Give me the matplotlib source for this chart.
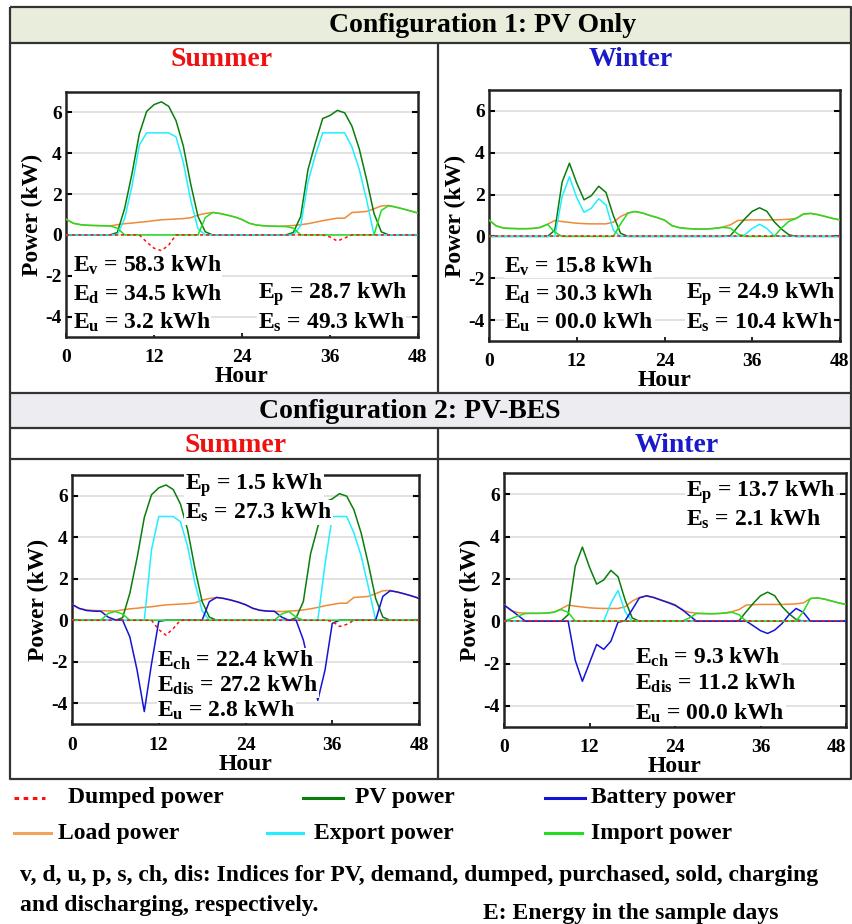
import numpy as np
import matplotlib
matplotlib.use("Agg")
import matplotlib.pyplot as plt
from matplotlib.patches import Rectangle
from matplotlib.transforms import ScaledTranslation

# ---------------------------------------------------------------- data (kW, hourly, two sample days)
hours = list(range(49))
x_ticks = [0, 12, 24, 36, 48]
y_ticks = [-4, -2, 0, 2, 4, 6]

pv_summer = [0, 0, 0, 0, 0, 0, 0,
             0.12, 1.3, 3.0, 4.95, 6.05, 6.38, 6.52, 6.3, 5.6, 4.35, 2.5, 0.9, 0.15, 0,
             0, 0, 0, 0, 0, 0, 0, 0, 0, 0,
             0.12, 0.9, 3.2, 4.5, 5.7, 5.85, 6.1, 5.98, 5.32, 4.2, 2.7, 1.05, 0.15, 0,
             0, 0, 0, 0]
load_summer = [0.77, 0.57, 0.5, 0.47, 0.46, 0.45, 0.44,
               0.5, 0.55, 0.58, 0.62, 0.65, 0.7, 0.74, 0.76, 0.78, 0.8, 0.84, 0.97, 1.05, 1.1,
               1.05, 0.97, 0.88, 0.75, 0.57, 0.48, 0.45, 0.43, 0.42, 0.44,
               0.46, 0.5, 0.55, 0.62, 0.7, 0.76, 0.82, 0.82, 1.1, 1.12, 1.15, 1.28, 1.42, 1.44,
               1.36, 1.27, 1.17, 1.07]
pv_winter = [0, 0, 0, 0, 0, 0, 0, 0, 0,
             0.3, 2.6, 3.5, 2.55, 1.75, 1.95, 2.4, 2.1, 1.0, 0.15, 0,
             0, 0, 0, 0, 0, 0, 0, 0, 0, 0, 0, 0, 0,
             0.03, 0.45, 0.85, 1.2, 1.37, 1.2, 0.7, 0.35, 0.08,
             0, 0, 0, 0, 0, 0, 0]
load_winter = [0.78, 0.5, 0.4, 0.38, 0.37, 0.37, 0.38, 0.43, 0.58, 0.76,
               0.71, 0.67, 0.63, 0.61, 0.6, 0.6, 0.6, 0.68, 0.95, 1.12,
               1.19, 1.12, 1.0, 0.9, 0.78, 0.52, 0.42, 0.38, 0.36, 0.35,
               0.36, 0.39, 0.45, 0.55, 0.76, 0.78, 0.79, 0.79, 0.79, 0.79,
               0.8, 0.82, 0.86, 1.07, 1.1, 1.04, 0.95, 0.86, 0.79]

# Configuration 1: PV only
export_s1 = [0, 0, 0, 0, 0, 0, 0,
             0, 0.8, 2.4, 4.4, 5, 5, 5, 5, 4.8, 3.55, 1.7, 0.3, 0, 0,
             0, 0, 0, 0, 0, 0, 0, 0, 0, 0,
             0, 0.45, 2.6, 3.9, 5, 5, 5, 5, 4.3, 3.2, 1.7, 0, 0, 0,
             0, 0, 0, 0]
import_s1 = [0.77, 0.57, 0.5, 0.47, 0.46, 0.45, 0.44,
             0.33, 0, 0, 0, 0, 0, 0, 0, 0, 0, 0, 0, 0.85, 1.1,
             1.05, 0.97, 0.88, 0.75, 0.57, 0.48, 0.45, 0.43, 0.42, 0.41,
             0.33, 0, 0, 0, 0, 0, 0, 0, 0, 0, 0, 0, 1.2, 1.43,
             1.36, 1.27, 1.17, 1.07]
dumped_s1 = [0, 0, 0, 0, 0, 0, 0, 0, 0, 0, 0,
             -0.35, -0.65, -0.77, -0.5, 0,
             0, 0, 0, 0, 0, 0, 0, 0, 0, 0, 0, 0, 0, 0, 0, 0, 0, 0, 0, 0,
             -0.1, -0.3, -0.15,
             0, 0, 0, 0, 0, 0, 0, 0, 0, 0]
export_w1 = [0, 0, 0, 0, 0, 0, 0, 0, 0, 0,
             1.9, 2.85, 1.85, 1.15, 1.35, 1.8, 1.5, 0.3, 0,
             0, 0, 0, 0, 0, 0, 0, 0, 0, 0, 0, 0, 0, 0, 0, 0,
             0.08, 0.38, 0.58, 0.38, 0.02,
             0, 0, 0, 0, 0, 0, 0, 0, 0]
import_w1 = [0.78, 0.5, 0.4, 0.38, 0.37, 0.37, 0.38, 0.43, 0.58, 0.2,
             0, 0, 0, 0, 0, 0, 0, 0,
             0.6, 1.12, 1.19, 1.12, 1.0, 0.9, 0.78, 0.52, 0.42, 0.38, 0.36, 0.35,
             0.36, 0.39, 0.43, 0.4, 0.12,
             0, 0, 0, 0, 0,
             0.4, 0.72, 0.86, 1.07, 1.1, 1.04, 0.95, 0.86, 0.79]
dumped_w1 = [0.0] * 49

# Configuration 2: PV with battery storage
export_s2 = [0, 0, 0, 0, 0, 0, 0, 0, 0, 0,
             0, 3.4, 5, 5, 5, 4.75, 3.55, 1.8, 0.45, 0,
             0, 0, 0, 0, 0, 0, 0, 0, 0, 0, 0, 0, 0, 0,
             0, 2.7, 5, 5, 5, 4.2, 3.1, 1.6, 0,
             0, 0, 0, 0, 0, 0]
import_s2 = [0, 0, 0, 0, 0, 0.33, 0.42, 0.3, 0,
             0, 0, 0, 0, 0, 0, 0, 0, 0, 0, 0, 0, 0, 0, 0, 0, 0, 0, 0, 0,
             0.3, 0.42, 0.15, 0,
             0, 0, 0, 0, 0, 0, 0, 0, 0, 0, 0, 0, 0, 0, 0, 0]
battery_s2 = [0.76, 0.57, 0.47, 0.44, 0.43, 0.15, 0.02, 0, -0.8, -2.4, -4.4, -2.1, -0.05,
              0, 0, 0, 0, 0,
              0, 0.9, 1.1, 1.05, 0.97, 0.87, 0.75, 0.58, 0.48, 0.44, 0.43, 0.15, 0, 0,
              -0.95, -2.5, -3.86, -2.4, -0.15,
              0, 0, 0, 0, 0, 0,
              1.15, 1.42, 1.36, 1.27, 1.17, 1.05]
dumped_s2 = [0, 0, 0, 0, 0, 0, 0, 0, 0, 0, 0, 0,
             -0.45, -0.72, -0.4, 0,
             0, 0, 0, 0, 0, 0, 0, 0, 0, 0, 0, 0, 0, 0, 0, 0, 0, 0, 0, 0,
             -0.05, -0.3, -0.2,
             0, 0, 0, 0, 0, 0, 0, 0, 0, 0]
export_w2 = [0, 0, 0, 0, 0, 0, 0, 0, 0, 0, 0, 0, 0, 0, 0,
             0.85, 1.45, 0.45,
             0, 0, 0, 0, 0, 0, 0, 0, 0, 0, 0, 0, 0, 0, 0, 0, 0, 0, 0, 0, 0, 0, 0,
             0, 0, 0, 0, 0, 0, 0, 0]
import_w2 = [0, 0.12, 0.25, 0.36, 0.37, 0.37, 0.38, 0.42, 0.55, 0.42,
             0, 0, 0, 0, 0, 0, 0, 0, 0, 0, 0, 0, 0, 0, 0, 0,
             0.15, 0.36, 0.36, 0.35, 0.36, 0.38, 0.42, 0.3,
             0, 0, 0, 0, 0, 0, 0, 0,
             0.45, 1.07, 1.1, 1.04, 0.95, 0.86, 0.79]
battery_w2 = [0.76, 0.52, 0.26,
              0, 0, 0, 0, 0, 0, 0,
              -1.85, -2.84, -1.97, -1.1, -1.33, -0.95, -0.05, 0.02, 0.55, 1.1,
              1.2, 1.12, 1.0, 0.88, 0.75, 0.55, 0.27,
              0, 0, 0, 0, 0, 0, 0, 0,
              -0.22, -0.45, -0.58, -0.42, -0.12, 0.3, 0.6, 0.42,
              0, 0, 0, 0, 0, 0]
dumped_w2 = [0.0] * 49

# energy summaries written on each panel
notes_s1 = [("v", "58.3"), ("d", "34.5"), ("u", "3.2"), ("p", "28.7"), ("s", "49.3")]
notes_w1 = [("v", "15.8"), ("d", "30.3"), ("u", "00.0"), ("p", "24.9"), ("s", "10.4")]
notes_s2 = [("p", "1.5"), ("s", "27.3"), ("ch", "22.4"), ("dis", "27.2"), ("u", "2.8")]
notes_w2 = [("p", "13.7"), ("s", "2.1"), ("ch", "9.3"), ("dis", "11.2"), ("u", "00.0")]

legend_labels = ["Dumped power", "PV power", "Battery power",
                 "Load power", "Export power", "Import power"]

# ---------------------------------------------------------------- style
C_DUMP = "#ff1010"
C_PV = "#0a7d0a"
C_BAT = "#1414d8"
C_LOAD = "#ef8a35"
C_EXP = "#22eeff"
C_IMP = "#22dd22"

plt.rcParams.update({
    "font.family": "Liberation Serif",
    "font.weight": "bold",
    "axes.labelweight": "bold",
    "axes.unicode_minus": False,
    "mathtext.fontset": "custom",
    "mathtext.rm": "Liberation Serif:bold",
    "mathtext.it": "Liberation Serif:bold",
    "mathtext.bf": "Liberation Serif:bold",
})

W, H = 852, 924
fig = plt.figure(figsize=(W / 100, H / 100), dpi=100)

# background layer in pixel coordinates for frames, headers and legend
bg = fig.add_axes([0, 0, 1, 1], zorder=0)
bg.set_xlim(0, W)
bg.set_ylim(H, 0)
bg.axis("off")

frame_kw = dict(color="#333333", lw=1.6, solid_capstyle="butt")
bg.add_patch(Rectangle((10, 7), 841, 36, fc="#e8eedb", ec="none"))
bg.add_patch(Rectangle((10, 393), 841, 35, fc="#ececf1", ec="none"))
bg.plot([10, 851, 851, 10, 10], [7, 7, 779, 779, 7], **frame_kw)
for yy in (43, 393, 428, 459):
    bg.plot([10, 851], [yy, yy], **frame_kw)
bg.plot([438, 438], [43, 393], **frame_kw)
bg.plot([438, 438], [428, 779], **frame_kw)

bg.text(483, 25, "Configuration 1: PV Only", ha="center", va="center", fontsize=20)
bg.text(410, 411, "Configuration 2: PV-BES", ha="center", va="center", fontsize=20)
bg.text(222, 59, "Summer", ha="center", va="center", fontsize=20, color="#ee1111")
bg.text(631, 59, "Winter", ha="center", va="center", fontsize=20, color="#1a1ac8")
bg.text(236, 445, "Summer", ha="center", va="center", fontsize=20, color="#ee1111")
bg.text(677, 445, "Winter", ha="center", va="center", fontsize=20, color="#1a1ac8")


def make_axes(x0, y0, x1, y1):
    ax = fig.add_axes([x0 / W, 1 - y1 / H, (x1 - x0) / W, (y1 - y0) / H], zorder=2)
    ax.set_xlim(0, 48)
    ax.set_ylim(-5, 7)
    ax.set_xticks(x_ticks)
    ax.set_yticks(y_ticks)
    ax.grid(axis="y", color="#dddddd", lw=1.2)
    ax.set_axisbelow(True)
    for s in ax.spines.values():
        s.set_linewidth(1.8)
        s.set_color("#222222")
    ax.tick_params(axis="y", direction="in", length=4, width=1.5, left=True, right=True,
                   labelsize=14, pad=3)
    ax.tick_params(axis="x", direction="in", length=3, width=1.2, labelsize=14, pad=9)
    ax.set_ylabel("Power (kW)", fontsize=17, labelpad=2)
    ax.set_xlabel("Hour", fontsize=17, labelpad=0)
    return ax


def draw_series(ax, load, pv, export, imp, dumped, battery=None):
    ax.plot(hours, load, color=C_LOAD, lw=1.1, zorder=3)
    ax.plot(hours, pv, color=C_PV, lw=1.1, zorder=4)
    ax.plot(hours, export, color=C_EXP, lw=1.1, zorder=5)
    if battery is not None:
        ax.plot(hours, battery, color=C_BAT, lw=1.1, zorder=6)
    ax.plot(hours, imp, color=C_IMP, lw=1.1, zorder=7)
    ax.plot(hours, dumped, color=C_DUMP, lw=1.1, ls=(0, (2, 2)), zorder=8)


def note(ax, x, y, sub, val):
    ax.text(x, y, "E$_{\\mathrm{%s}}$ = %s kWh" % (sub, val), fontsize=17,
            ha="left", va="center", zorder=9,
            bbox=dict(fc="white", ec="none", pad=0.5))


# Configuration 1, summer
ax1 = make_axes(66, 92, 418, 337)
draw_series(ax1, load_summer, pv_summer, export_s1, import_s1, dumped_s1)
for (sub, val), (x, y) in zip(notes_s1, [(0.9, -1.5), (0.9, -2.9), (0.9, -4.3),
                                         (26.2, -2.9), (26.2, -4.3)]):
    note(ax1, x, y, sub, val)

# Configuration 1, winter
ax2 = make_axes(489, 90, 840, 341)
draw_series(ax2, load_winter, pv_winter, export_w1, import_w1, dumped_w1)
for (sub, val), (x, y) in zip(notes_w1, [(2.1, -1.42), (2.1, -2.75), (2.1, -4.1),
                                         (26.9, -2.75), (26.9, -4.1)]):
    note(ax2, x, y, sub, val)

# Configuration 2, summer
ax3 = make_axes(72, 475, 419, 724)
draw_series(ax3, load_summer, pv_summer, export_s2, import_s2, dumped_s2, battery_s2)
for (sub, val), (x, y) in zip(notes_s2, [(15.6, 6.5), (15.6, 5.2), (11.8, -1.95),
                                         (11.8, -3.15), (11.8, -4.35)]):
    note(ax3, x, y, sub, val)

# Configuration 2, winter
ax4 = make_axes(504, 473, 846, 727)
draw_series(ax4, load_winter, pv_winter, export_w2, import_w2, dumped_w2, battery_w2)
for (sub, val), (x, y) in zip(notes_w2, [(25.5, 6.1), (25.5, 4.8), (18.4, -1.7),
                                         (18.4, -2.95), (18.4, -4.35)]):
    note(ax4, x, y, sub, val)
# keep the last hour label inside the figure edge
last = ax4.get_xticklabels()[-1]
last.set_transform(last.get_transform() + ScaledTranslation(-7 / 72, 0, fig.dpi_scale_trans))

# ---------------------------------------------------------------- legend and footnotes
legend_items = [
    (C_DUMP, (0, (1.5, 1.5)), 14, 45, 68, 798),
    (C_PV, "-", 303, 343, 355, 798),
    (C_BAT, "-", 545, 585, 591, 798),
    ("#f4a25a", "-", 14, 51, 58, 833),
    (C_EXP, "-", 267, 303, 314, 833),
    (C_IMP, "-", 545, 582, 591, 833),
]
for label, (col, ls, lx0, lx1, tx, ty) in zip(legend_labels, legend_items):
    bg.plot([lx0, lx1], [ty, ty], color=col, ls=ls, lw=2.2)
    bg.text(tx, ty, label, fontsize=17, ha="left", va="center")

bg.text(20, 876, "v, d, u, p, s, ch, dis: Indices for PV, demand, dumped, purchased, sold, charging",
        fontsize=17, ha="left", va="center")
bg.text(20, 905, "and discharging, respectively.", fontsize=17, ha="left", va="center")
bg.text(483, 913, "E: Energy in the sample days", fontsize=17, ha="left", va="center")

fig.savefig("out.png", dpi=100)
